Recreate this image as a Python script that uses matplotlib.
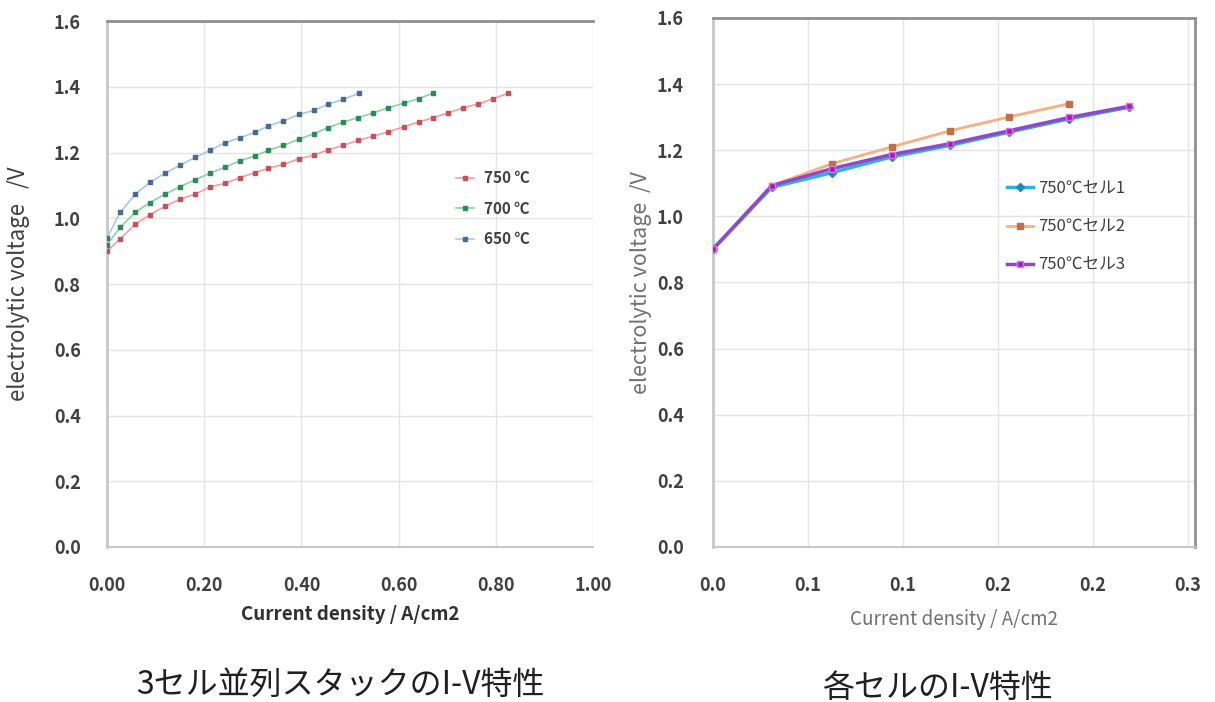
import matplotlib.pyplot as plt

plt.rcParams['font.family'] = ['Noto Sans CJK JP', 'DejaVu Sans']
plt.rcParams['axes.unicode_minus'] = False

# 3-cell parallel stack, I-V curves by temperature
i_750 = [0.0, 0.027, 0.058, 0.088, 0.119, 0.150, 0.181, 0.212, 0.243, 0.274,
         0.305, 0.332, 0.363, 0.395, 0.425, 0.455, 0.486, 0.517, 0.548, 0.579,
         0.610, 0.641, 0.671, 0.702, 0.733, 0.764, 0.795, 0.825]
v_750 = [0.900, 0.937, 0.982, 1.011, 1.036, 1.058, 1.073, 1.096, 1.106, 1.124,
         1.139, 1.152, 1.164, 1.181, 1.192, 1.208, 1.222, 1.237, 1.250, 1.263,
         1.278, 1.293, 1.306, 1.321, 1.336, 1.348, 1.364, 1.380]

i_700 = [0.0, 0.027, 0.058, 0.088, 0.119, 0.150, 0.181, 0.212, 0.243, 0.274,
         0.305, 0.332, 0.363, 0.394, 0.425, 0.455, 0.486, 0.517, 0.548, 0.579,
         0.610, 0.641, 0.670]
v_700 = [0.920, 0.972, 1.018, 1.048, 1.073, 1.096, 1.117, 1.137, 1.156, 1.175,
         1.190, 1.207, 1.222, 1.240, 1.257, 1.276, 1.293, 1.306, 1.321, 1.336,
         1.350, 1.364, 1.380]

i_650 = [0.0, 0.027, 0.058, 0.088, 0.119, 0.150, 0.181, 0.212, 0.243, 0.274,
         0.305, 0.332, 0.363, 0.395, 0.425, 0.455, 0.486, 0.518]
v_650 = [0.940, 1.018, 1.073, 1.109, 1.137, 1.161, 1.185, 1.207, 1.230, 1.245,
         1.262, 1.281, 1.296, 1.316, 1.328, 1.347, 1.362, 1.380]

# individual cells at 750 C
i_cell = [0.0, 0.031, 0.0625, 0.094, 0.125, 0.156, 0.1875, 0.219]
v_cell1 = [0.900, 1.088, 1.132, 1.180, 1.215, 1.255, 1.295, 1.330]
v_cell2 = [0.900, 1.093, 1.159, 1.210, 1.259, 1.301, 1.341]
v_cell3 = [0.901, 1.093, 1.144, 1.187, 1.220, 1.259, 1.299, 1.333]

right_ticks = [0.0, 0.05, 0.10, 0.15, 0.20, 0.25]
right_labels = ['0.0', '0.1', '0.1', '0.2', '0.2', '0.3']
y_ticks = [0.0, 0.2, 0.4, 0.6, 0.8, 1.0, 1.2, 1.4, 1.6]

fig = plt.figure(figsize=(12.15, 7.02), dpi=100)
ax1 = fig.add_axes([0.0881, 0.2208, 0.4, 0.7492])
ax2 = fig.add_axes([0.5868, 0.2208, 0.3967, 0.7536])

grid_c = '#e4e4e4'
tick_c = '#404040'

# left chart
ax1.plot(i_750, v_750, color='#f0a0a4', lw=1.2, marker='s', ms=3,
         mfc='#c8505a', mec='#c8505a', label='750 ℃', zorder=3)
ax1.plot(i_700, v_700, color='#90d0a8', lw=1.2, marker='s', ms=3,
         mfc='#2f8a5a', mec='#2f8a5a', label='700 ℃', zorder=3)
ax1.plot(i_650, v_650, color='#a8c8e8', lw=1.2, marker='s', ms=3,
         mfc='#4a6a8e', mec='#4a6a8e', label='650 ℃', zorder=3)
ax1.set_xlim(0, 1.0)
ax1.set_ylim(0, 1.6)
ax1.set_xticks([0.0, 0.2, 0.4, 0.6, 0.8, 1.0])
ax1.set_xticklabels(['0.00', '0.20', '0.40', '0.60', '0.80', '1.00'])
ax1.set_yticks(y_ticks)
ax1.set_yticklabels([f'{t:.1f}' for t in y_ticks])
ax1.grid(True, color=grid_c, lw=1)
ax1.set_axisbelow(True)
ax1.tick_params(axis='x', length=0, pad=21, labelsize=13, labelcolor=tick_c)
ax1.tick_params(axis='y', length=0, pad=19, labelsize=13, labelcolor=tick_c)
for lab in ax1.get_xticklabels() + ax1.get_yticklabels():
    lab.set_fontweight('bold')
ax1.spines['right'].set_visible(False)
ax1.spines['top'].set_color('#909090')
ax1.spines['top'].set_linewidth(2)
ax1.spines['left'].set_color('#c8c8c8')
ax1.spines['left'].set_linewidth(2)
ax1.spines['bottom'].set_color('#c8c8c8')
ax1.spines['bottom'].set_linewidth(1.5)
ax1.set_xlabel('Current density / A/cm2', fontsize=13.5, fontweight='bold',
               color='#303030')
ax1.set_ylabel('electrolytic voltage   /V', fontsize=16, color='#404040')
ax1.xaxis.set_label_coords(0.5, -0.11)
ax1.yaxis.set_label_coords(-0.158, 0.5)
leg1 = ax1.legend(loc='center left', bbox_to_anchor=(0.69, 0.643), frameon=False,
                  handlelength=1.2, handletextpad=0.6, labelspacing=0.95,
                  prop={'size': 11, 'weight': 'bold'})
for t in leg1.get_texts():
    t.set_color('#404040')

# right chart
ax2.plot(i_cell, v_cell1, color='#30b0e0', lw=2.5, marker='D', ms=4,
         mfc='#1a8ab8', mec='#1a8ab8', label='750℃セル1', zorder=3)
ax2.plot(i_cell[:len(v_cell2)], v_cell2, color='#f8b080', lw=2, marker='s', ms=4,
         mfc='#c07048', mec='#c07048', label='750℃セル2', zorder=3)
ax2.plot(i_cell, v_cell3, color='#9048c8', lw=2.5, marker='s', ms=4.5,
         mfc='#a020b0', mec='#e070f0', label='750℃セル3', zorder=4)
ax2.set_xlim(0, 0.2537)
ax2.set_ylim(0, 1.6)
ax2.set_xticks(right_ticks)
ax2.set_xticklabels(right_labels)
ax2.set_yticks(y_ticks)
ax2.set_yticklabels([f'{t:.1f}' for t in y_ticks])
ax2.grid(True, color=grid_c, lw=1)
ax2.set_axisbelow(True)
ax2.tick_params(axis='x', length=0, pad=21, labelsize=13, labelcolor=tick_c)
ax2.tick_params(axis='y', length=0, pad=21, labelsize=13, labelcolor=tick_c)
for lab in ax2.get_xticklabels() + ax2.get_yticklabels():
    lab.set_fontweight('bold')
for side in ('top', 'right'):
    ax2.spines[side].set_color('#909090')
    ax2.spines[side].set_linewidth(2)
ax2.spines['left'].set_color('#c8c8c8')
ax2.spines['left'].set_linewidth(2)
ax2.spines['bottom'].set_color('#c8c8c8')
ax2.spines['bottom'].set_linewidth(1.5)
ax2.set_xlabel('Current density / A/cm2', fontsize=13.5, color='#707070')
ax2.set_ylabel('electrolytic voltage  /V', fontsize=15.5, color='#707070')
ax2.xaxis.set_label_coords(0.5, -0.118)
ax2.yaxis.set_label_coords(-0.127, 0.5)
leg2 = ax2.legend(loc='center left', bbox_to_anchor=(0.578, 0.605), frameon=False,
                  handlelength=1.6, handletextpad=0.3, labelspacing=1.28,
                  prop={'size': 12})
for t in leg2.get_texts():
    t.set_color('#404040')

fig.text(0.28, 0.025, '3セル並列スタックのI-V特性', ha='center', va='center',
         fontsize=23, color='#202020')
fig.text(0.772, 0.02, '各セルのI-V特性', ha='center', va='center',
         fontsize=23, color='#202020')

fig.savefig('out.png', dpi=100)
